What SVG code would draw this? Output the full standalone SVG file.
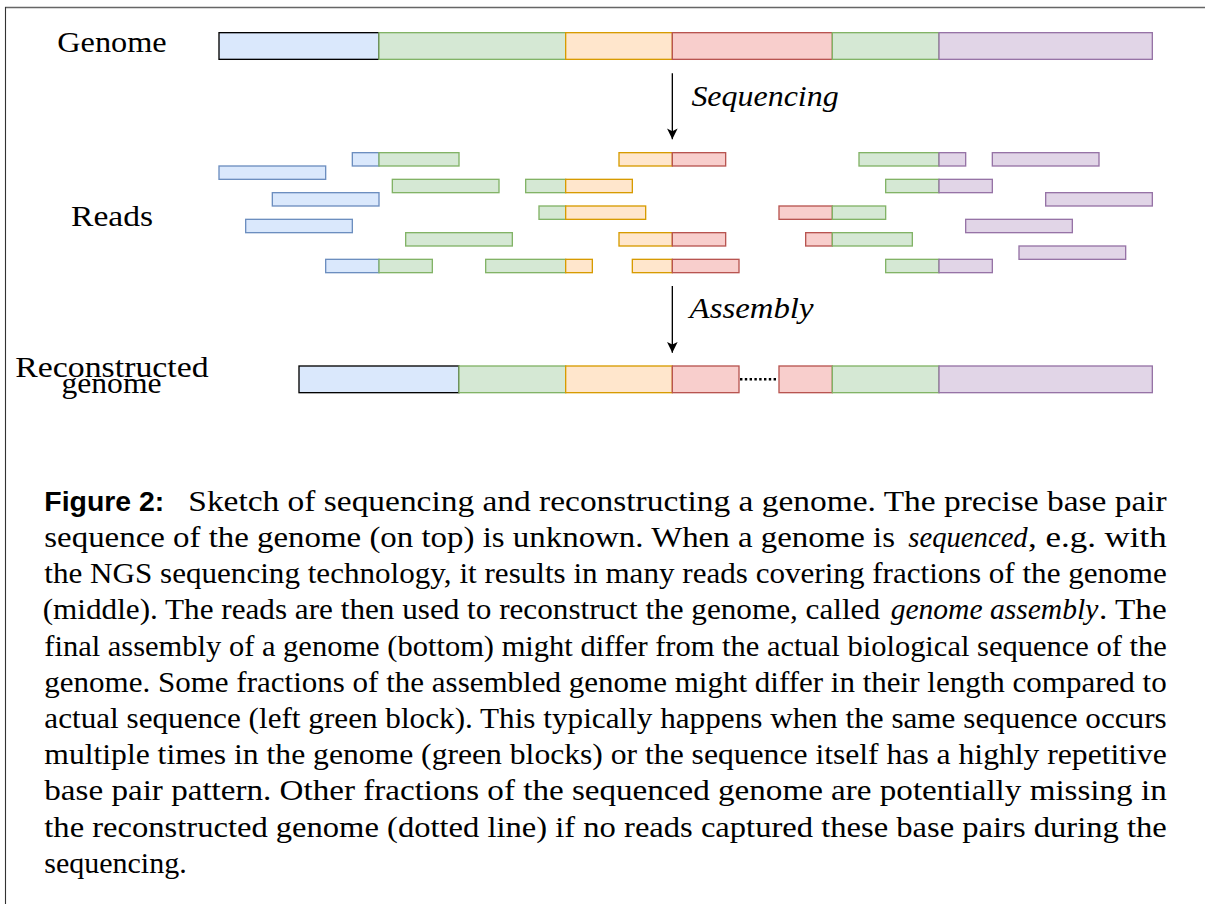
<svg xmlns="http://www.w3.org/2000/svg" width="1205" height="904" viewBox="0 0 1205 904">
  <style>
    .b { fill: #dae8fc; stroke: #6c8ebf; }
    .g { fill: #d5e8d4; stroke: #82b366; }
    .o { fill: #ffe6cc; stroke: #d79b00; }
    .r { fill: #f8cecc; stroke: #b85450; }
    .p { fill: #e1d5e7; stroke: #9673a6; }
    .k { stroke: #000000; }
    rect { stroke-width: 1.33; }
    .lbl { font-family: "Liberation Serif", "Times New Roman", serif; font-size: 30px; fill: #000; }
    .it { font-family: "Liberation Serif", "Times New Roman", serif; font-style: italic; font-size: 30px; fill: #000; }
    .cap { font-family: "Liberation Serif", "Times New Roman", serif; font-size: 30px; fill: #000; }
    .capi { font-family: "Liberation Serif", "Times New Roman", serif; font-style: italic; font-size: 30px; fill: #000; }
    .capb { font-family: "Liberation Sans", Arial, sans-serif; font-weight: bold; font-size: 28px; fill: #000; }
    .edge { stroke: #000; stroke-width: 1.33; fill: none; }
  </style>
  <defs>
    <marker id="arrow" viewBox="0 0 12 12" refX="11.3" refY="6" markerWidth="12" markerHeight="12" markerUnits="userSpaceOnUse" orient="auto">
      <path d="M0.5,0.7 L11.3,6 L0.5,11.3 L3.2,6 Z" fill="#000"/>
    </marker>
  </defs>

  <!-- page frame -->
  <g id="frame">
    <line x1="5" y1="7.5" x2="1205" y2="7.5" stroke="#666" stroke-width="1.3"/>
    <line x1="5.5" y1="7" x2="5.5" y2="904" stroke="#333" stroke-width="1.1"/>
  </g>

  <!-- row labels -->
  <g id="label-genome"><text class="lbl" x="57.3" y="52.3" textLength="109.4" lengthAdjust="spacingAndGlyphs">Genome</text></g>
  <g id="label-reads"><text class="lbl" x="71" y="226" textLength="82" lengthAdjust="spacingAndGlyphs">Reads</text></g>
  <g id="label-reconstructed">
    <text class="lbl" x="15.3" y="376.5" textLength="193.3" lengthAdjust="spacingAndGlyphs">Reconstructed</text>
    <text class="lbl" x="61.5" y="393" textLength="100" lengthAdjust="spacingAndGlyphs">genome</text>
  </g>

  <!-- reference genome -->
  <g id="genome">
    <rect class="b k" x="219" y="32.67" width="160" height="26.67"/>
    <rect class="g" x="379" y="32.67" width="186.67" height="26.67"/>
    <rect class="o" x="565.67" y="32.67" width="106.67" height="26.67"/>
    <rect class="r" x="672.33" y="32.67" width="160" height="26.67"/>
    <rect class="g" x="832.33" y="32.67" width="106.67" height="26.67"/>
    <rect class="p" x="939" y="32.67" width="213.33" height="26.67"/>
  </g>

  <!-- sequencing reads -->
  <g id="reads">
    <g id="read-1"><rect class="b" x="352.33" y="152.67" width="26.67" height="13.33"/><rect class="g" x="379" y="152.67" width="80" height="13.33"/></g>
    <g id="read-2"><rect class="o" x="619" y="152.67" width="53.33" height="13.33"/><rect class="r" x="672.33" y="152.67" width="53.33" height="13.33"/></g>
    <g id="read-3"><rect class="g" x="859" y="152.67" width="80" height="13.33"/><rect class="p" x="939" y="152.67" width="26.67" height="13.33"/></g>
    <g id="read-4"><rect class="p" x="992.33" y="152.67" width="106.67" height="13.33"/></g>

    <g id="read-5"><rect class="b" x="219" y="166" width="106.67" height="13.33"/></g>

    <g id="read-6"><rect class="g" x="392.33" y="179.33" width="106.67" height="13.33"/></g>
    <g id="read-7"><rect class="g" x="525.67" y="179.33" width="40" height="13.33"/><rect class="o" x="565.67" y="179.33" width="66.67" height="13.33"/></g>
    <g id="read-8"><rect class="g" x="885.67" y="179.33" width="53.33" height="13.33"/><rect class="p" x="939" y="179.33" width="53.33" height="13.33"/></g>

    <g id="read-9"><rect class="b" x="272.33" y="192.67" width="106.67" height="13.33"/></g>
    <g id="read-10"><rect class="p" x="1045.67" y="192.67" width="106.67" height="13.33"/></g>

    <g id="read-11"><rect class="g" x="539" y="206" width="26.67" height="13.33"/><rect class="o" x="565.67" y="206" width="80" height="13.33"/></g>
    <g id="read-12"><rect class="r" x="779" y="206" width="53.33" height="13.33"/><rect class="g" x="832.33" y="206" width="53.33" height="13.33"/></g>

    <g id="read-13"><rect class="b" x="245.67" y="219.33" width="106.67" height="13.33"/></g>
    <g id="read-14"><rect class="p" x="965.67" y="219.33" width="106.67" height="13.33"/></g>

    <g id="read-15"><rect class="g" x="405.67" y="232.67" width="106.67" height="13.33"/></g>
    <g id="read-16"><rect class="o" x="619" y="232.67" width="53.33" height="13.33"/><rect class="r" x="672.33" y="232.67" width="53.33" height="13.33"/></g>
    <g id="read-17"><rect class="r" x="805.67" y="232.67" width="26.67" height="13.33"/><rect class="g" x="832.33" y="232.67" width="80" height="13.33"/></g>

    <g id="read-18"><rect class="p" x="1019" y="246" width="106.67" height="13.33"/></g>

    <g id="read-19"><rect class="b" x="325.67" y="259.33" width="53.33" height="13.33"/><rect class="g" x="379" y="259.33" width="53.33" height="13.33"/></g>
    <g id="read-20"><rect class="g" x="485.67" y="259.33" width="80" height="13.33"/><rect class="o" x="565.67" y="259.33" width="26.67" height="13.33"/></g>
    <g id="read-21"><rect class="o" x="632.33" y="259.33" width="40" height="13.33"/><rect class="r" x="672.33" y="259.33" width="66.67" height="13.33"/></g>
    <g id="read-22"><rect class="g" x="885.67" y="259.33" width="53.33" height="13.33"/><rect class="p" x="939" y="259.33" width="53.33" height="13.33"/></g>
  </g>

  <!-- assembled genome -->
  <g id="assembly">
    <rect class="b k" x="299" y="366" width="160" height="26.67"/>
    <rect class="g" x="459" y="366" width="106.67" height="26.67"/>
    <rect class="o" x="565.67" y="366" width="106.67" height="26.67"/>
    <rect class="r" x="672.33" y="366" width="66.67" height="26.67"/>
    <rect class="r" x="779" y="366" width="53.33" height="26.67"/>
    <rect class="g" x="832.33" y="366" width="106.67" height="26.67"/>
    <rect class="p" x="939" y="366" width="213.33" height="26.67"/>
  </g>

  <!-- connectors -->
  <g id="connectors">
    <line class="edge" x1="672.33" y1="73.3" x2="672.33" y2="139.3" marker-end="url(#arrow)"/>
    <line class="edge" x1="672.33" y1="286" x2="672.33" y2="352.7" marker-end="url(#arrow)"/>
    <line id="gap" x1="740" y1="379.3" x2="778" y2="379.3" stroke="#000" stroke-width="2.4" stroke-dasharray="2.4,2.4"/>
  </g>

  <g id="label-sequencing"><text class="it" x="691.4" y="106" textLength="147.3" lengthAdjust="spacingAndGlyphs">Sequencing</text></g>
  <g id="label-assembly"><text class="it" x="689.6" y="318" textLength="123.9" lengthAdjust="spacingAndGlyphs">Assembly</text></g>

  <!-- caption -->
  <g id="caption">
    <text class="capb" x="44.3" y="510.7" textLength="120" lengthAdjust="spacingAndGlyphs">Figure 2:</text>
    <text class="cap" x="188.3" y="510.7" textLength="978.4" lengthAdjust="spacingAndGlyphs">Sketch of sequencing and reconstructing a genome.  The precise base pair</text>

    <text class="cap" x="44.3" y="546.9" textLength="850.7" lengthAdjust="spacingAndGlyphs">sequence of the genome (on top) is unknown.  When a genome is</text>
    <text class="capi" x="908.3" y="546.9" textLength="119.4" lengthAdjust="spacingAndGlyphs">sequenced</text>
    <text class="cap" x="1028" y="546.9" textLength="138.7" lengthAdjust="spacingAndGlyphs">, e.g.  with</text>

    <text class="cap" x="44.3" y="583.1" textLength="1122.4" lengthAdjust="spacingAndGlyphs">the NGS sequencing technology, it results in many reads covering fractions of the genome</text>

    <text class="cap" x="42.7" y="619.3" textLength="837.3" lengthAdjust="spacingAndGlyphs">(middle).  The reads are then used to reconstruct the genome, called</text>
    <text class="capi" x="890.7" y="619.3" textLength="207.6" lengthAdjust="spacingAndGlyphs">genome assembly</text>
    <text class="cap" x="1099" y="619.3" textLength="67.7" lengthAdjust="spacingAndGlyphs">. The</text>

    <text class="cap" x="44.3" y="655.5" textLength="1122.4" lengthAdjust="spacingAndGlyphs">final assembly of a genome (bottom) might differ from the actual biological sequence of the</text>
    <text class="cap" x="44.3" y="691.7" textLength="1122.4" lengthAdjust="spacingAndGlyphs">genome.  Some fractions of the assembled genome might differ in their length compared to</text>
    <text class="cap" x="44.3" y="727.9" textLength="1122.4" lengthAdjust="spacingAndGlyphs">actual sequence (left green block).  This typically happens when the same sequence occurs</text>
    <text class="cap" x="44.3" y="764.1" textLength="1122.4" lengthAdjust="spacingAndGlyphs">multiple times in the genome (green blocks) or the sequence itself has a highly repetitive</text>
    <text class="cap" x="44.3" y="800.3" textLength="1122.4" lengthAdjust="spacingAndGlyphs">base pair pattern.  Other fractions of the sequenced genome are potentially missing in</text>
    <text class="cap" x="44.3" y="836.5" textLength="1122.4" lengthAdjust="spacingAndGlyphs">the reconstructed genome (dotted line) if no reads captured these base pairs during the</text>
    <text class="cap" x="44.3" y="872.7" textLength="142.4" lengthAdjust="spacingAndGlyphs">sequencing.</text>
  </g>
</svg>
